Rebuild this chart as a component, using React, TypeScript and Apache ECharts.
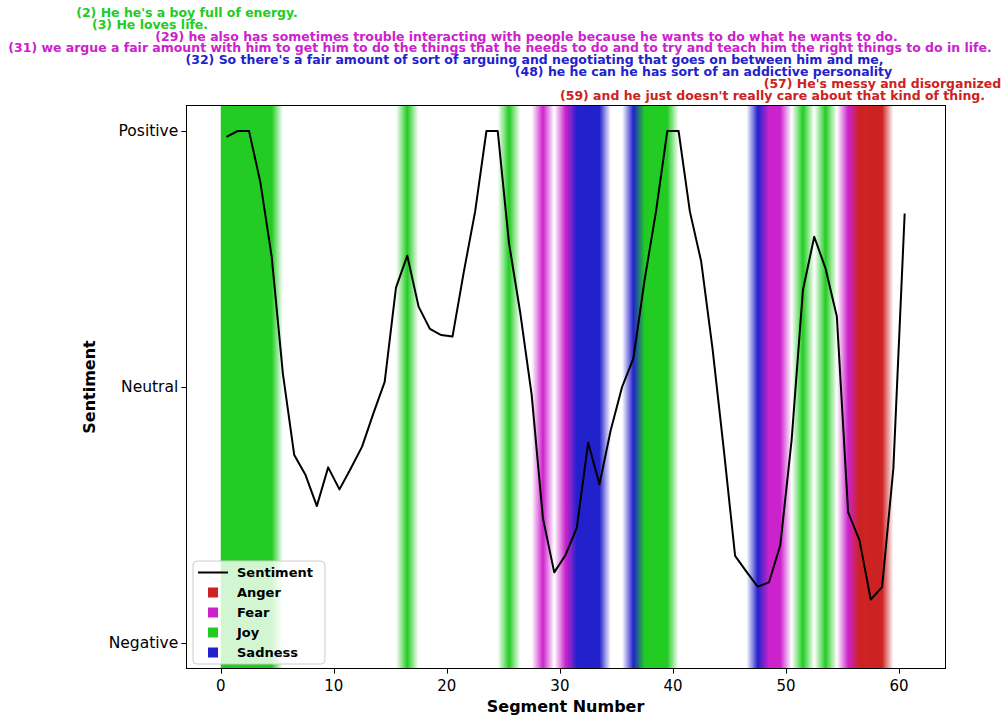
import React, { useEffect, useRef } from 'react';
import * as echarts from 'echarts';

// Sentiment value per segment (segment i is centred at i + 0.5)
const sentiment = [
  0.977, 1.0, 1.0, 0.8, 0.51, 0.05, -0.266, -0.344, -0.465, -0.314,
  -0.4, -0.318, -0.233, -0.103, 0.02, 0.388, 0.513, 0.314, 0.227, 0.203,
  0.197, 0.45, 0.685, 1.0, 1.0, 0.561, 0.288, -0.03, -0.513, -0.724,
  -0.656, -0.549, -0.217, -0.38, -0.168, 0.0, 0.112, 0.42, 0.685, 1.0,
  1.0, 0.685, 0.49, 0.151, -0.245, -0.66, -0.721, -0.78, -0.763, -0.617,
  -0.207, 0.379, 0.587, 0.463, 0.275, -0.49, -0.598, -0.83, -0.782, -0.318,
  0.678,
];

// Dominant emotion per segment ('' = none)
const emotions = [
  'Joy', 'Joy', 'Joy', 'Joy', 'Joy', '', '', '', '', '',
  '', '', '', '', '', '', 'Joy', '', '', '',
  '', '', '', '', '', 'Joy', '', '', 'Fear', '',
  'Fear', 'Sadness', 'Sadness', 'Sadness', '', '', 'Sadness', 'Joy', 'Joy', 'Joy',
  '', '', '', '', '', '', '', 'Sadness', 'Fear', 'Fear',
  '', 'Joy', '', 'Joy', '', 'Fear', 'Anger', 'Anger', 'Anger', '',
  '',
];

const emotionNames = ['Anger', 'Fear', 'Joy', 'Sadness'];
const emotionColors: Record<string, string> = {
  Anger: '#cc2222',
  Fear: '#cc22cc',
  Joy: '#22cc22',
  Sadness: '#2222cc',
  '': '#ffffff',
};

const xTickValues = [0, 10, 20, 30, 40, 50, 60];
const yTickValues = [-1, 0, 1];
const yTickLabels = ['Negative', 'Neutral', 'Positive'];

const annotationTexts = [
  "(2) He he's a boy full of energy.",
  '(3) He loves life.',
  '(29) he also has sometimes trouble interacting with people because he wants to do what he wants to do.',
  '(31) we argue a fair amount with him to get him to do the things that he needs to do and to try and teach him the right things to do in life.',
  "(32) So there's a fair amount of sort of arguing and negotiating that goes on between him and me,",
  '(48) he he can he has sort of an addictive personality',
  "(57) He's messy and disorganized",
  "(59) and he just doesn't really care about that kind of thing.",
];
const annotationEmotions = ['Joy', 'Joy', 'Fear', 'Fear', 'Sadness', 'Sadness', 'Anger', 'Anger'];
// layout: pixel centres of annotation lines
const annotationLayout = [
  [187, 13.2], [150, 25], [526.5, 36.8], [500, 48.6],
  [534.5, 60.4], [703.5, 72.2], [882.5, 84], [772.5, 95.8],
];

const FONT = '"DejaVu Sans", "Liberation Sans", sans-serif';

function hexToRgb(h: string) {
  const n = parseInt(h.slice(1), 16);
  return [(n >> 16) & 255, (n >> 8) & 255, n & 255];
}
function mix(a: string, b: string) {
  const ca = hexToRgb(a);
  const cb = hexToRgb(b);
  const m = ca.map((v, k) => Math.round((v + cb[k]) / 2));
  return `rgb(${m[0]},${m[1]},${m[2]})`;
}

const squareIcon = 'path://M0,0L10,0L10,10L0,10Z';
const lineIcon = 'path://M0,0L30,0L30,2L0,2Z';

export default function App() {
  const ref = useRef<HTMLDivElement>(null);
  useEffect(() => {
    document.body.style.margin = '0';
    if (!ref.current) return;
    const chart = echarts.init(ref.current, undefined, { renderer: 'svg' });
    const n = emotions.length;
    const segColor = (i: number) => emotionColors[emotions[i]];

    const axisCommon = {
      type: 'value' as const,
      splitLine: { show: false },
      z: 10,
    };

    const option: any = {
      animation: false,
      backgroundColor: '#ffffff',
      grid: {
        left: 186.3,
        width: 758.5,
        top: 105.4,
        height: 563.2,
        containLabel: false,
        outerBoundsMode: 'none',
      },
      xAxis: [
        {
          ...axisCommon,
          min: -3.05,
          max: 64.05,
          position: 'bottom',
          name: 'Segment Number',
          nameLocation: 'middle',
          nameGap: 29,
          nameTextStyle: { fontSize: 16, fontWeight: 'bold', color: '#000', fontFamily: FONT },
          axisLine: { show: true, onZero: false, lineStyle: { color: '#000', width: 1 } },
          axisTick: { show: true, length: 5, customValues: xTickValues, lineStyle: { color: '#000' } },
          axisLabel: { customValues: xTickValues, margin: 10, fontSize: 15, color: '#000', fontFamily: FONT },
        },
        {
          ...axisCommon,
          min: -3.05,
          max: 64.05,
          position: 'top',
          axisLine: { show: true, onZero: false, lineStyle: { color: '#000', width: 1 } },
          axisTick: { show: false },
          axisLabel: { show: false },
        },
      ],
      yAxis: [
        {
          ...axisCommon,
          min: -1.1,
          max: 1.1,
          position: 'left',
          name: 'Sentiment',
          nameLocation: 'middle',
          nameGap: 78,
          nameTextStyle: { fontSize: 16, fontWeight: 'bold', color: '#000', fontFamily: FONT },
          axisLine: { show: true, onZero: false, lineStyle: { color: '#000', width: 1 } },
          axisTick: { show: true, length: 5, customValues: yTickValues, lineStyle: { color: '#000' } },
          axisLabel: {
            customValues: yTickValues,
            margin: 8,
            fontSize: 15.5,
            color: '#000',
            fontFamily: FONT,
            formatter: (v: number) => {
              const k = yTickValues.indexOf(Math.round(v));
              return k >= 0 ? yTickLabels[k] : '';
            },
          },
        },
        {
          ...axisCommon,
          min: -1.1,
          max: 1.1,
          position: 'right',
          axisLine: { show: true, onZero: false, lineStyle: { color: '#000', width: 1 } },
          axisTick: { show: false },
          axisLabel: { show: false },
        },
      ],
      legend: {
        orient: 'vertical',
        left: 193,
        top: 561,
        padding: [5, 12, 5, 5],
        itemWidth: 30,
        itemHeight: 10,
        itemGap: 7,
        selectedMode: false,
        backgroundColor: 'rgba(255,255,255,0.8)',
        borderColor: '#cccccc',
        borderWidth: 1,
        borderRadius: 4,
        symbolKeepAspect: true,
        textStyle: { fontSize: 13, fontWeight: 'bold', color: '#000', fontFamily: FONT, padding: [0, 0, 0, 4] },
        data: [
          { name: 'Sentiment', icon: lineIcon, itemStyle: { color: '#000', opacity: 1 } },
          ...emotionNames.map((e) => ({ name: e, icon: squareIcon, itemStyle: { color: emotionColors[e], opacity: 1 } })),
        ],
      },
      graphic: annotationTexts.map((t, k) => ({
        type: 'text',
        x: annotationLayout[k][0],
        y: annotationLayout[k][1],
        scaleX: 12.5 / 11,
        scaleY: 1.05,
        style: {
          text: t,
          fill: emotionColors[annotationEmotions[k]],
          fontSize: 11,
          fontWeight: 'bold',
          fontFamily: FONT,
          align: 'center',
          verticalAlign: 'middle',
        },
      })),
      series: [
        {
          type: 'custom',
          name: 'bands',
          silent: true,
          z: 1,
          xAxisIndex: 0,
          yAxisIndex: 0,
          data: emotions.map((_, i) => [i]),
          encode: { x: 0 },
          clip: true,
          renderItem: (params: any, api: any) => {
            const i = api.value(0);
            const cs = params.coordSys;
            const x0 = api.coord([i, 0])[0];
            const x1 = api.coord([i + 1, 0])[0];
            const c = segColor(i);
            const left = i === 0 ? c : mix(segColor(i - 1), c);
            const right = i === n - 1 ? c : mix(c, segColor(i + 1));
            const w = x1 - x0;
            const ov = 0.6;
            const W = w + ov;
            return {
              type: 'rect',
              shape: { x: x0, y: cs.y, width: W, height: cs.height },
              style: {
                fill: new echarts.graphic.LinearGradient(0, 0, 1, 0, [
                  { offset: 0, color: left },
                  { offset: (w / 2) / W, color: c },
                  { offset: w / W, color: right },
                  { offset: 1, color: right },
                ]),
              },
            };
          },
        },
        {
          type: 'line',
          name: 'Sentiment',
          z: 3,
          xAxisIndex: 0,
          yAxisIndex: 0,
          data: sentiment.map((v, i) => [i + 0.5, v]),
          symbol: 'none',
          itemStyle: { color: '#000' },
          lineStyle: { color: '#000', width: 2, join: 'round' },
        },
        ...emotionNames.map((e) => ({
          type: 'scatter',
          name: e,
          data: [],
          itemStyle: { color: emotionColors[e], opacity: 1 },
        })),
      ],
    };
    chart.setOption(option);
    return () => chart.dispose();
  }, []);
  return (
    <div
      ref={ref}
      style={{ width: 1003, height: 715, position: 'absolute', left: 0, top: 0 }}
    />
  );
}
